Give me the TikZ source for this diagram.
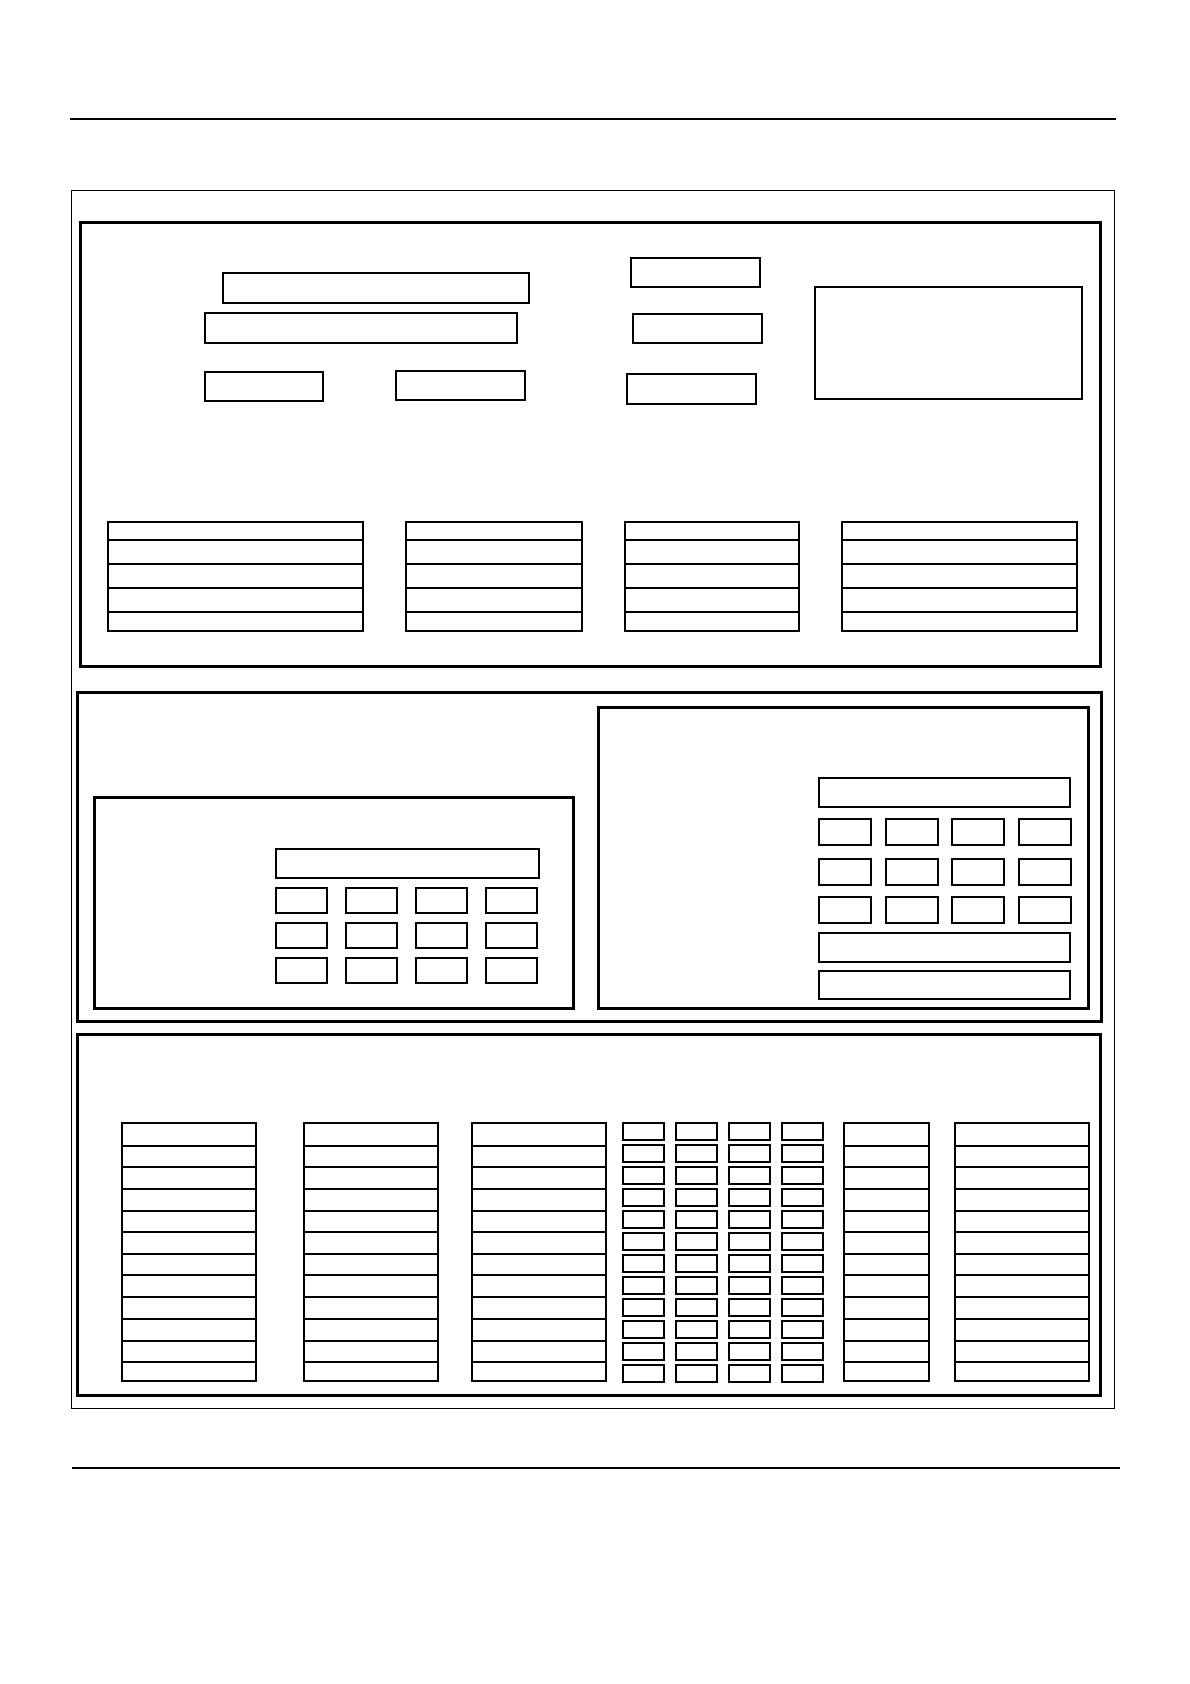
\documentclass[tikz,border=0pt]{standalone}
\usetikzlibrary{positioning}

\tikzset{
  field/.style={draw, line width=1.2pt, inner sep=0pt, outer sep=0pt, anchor=north west},
  panel/.style={draw, line width=3pt, inner sep=0pt, outer sep=0pt, anchor=north west},
}
% box from its top left corner (x1,y1) to its bottom right corner (x2,y2)
\newcommand{\fieldbox}[6][field]{\node[#1, minimum width={(#5)-(#3)}, minimum height={(#6)-(#4)}] (#2) at (#3,#4) {};}

\begin{document}
\begin{tikzpicture}[x=1pt, y=-1pt]
  \useasboundingbox (0,0) rectangle (1190,1684);
  \draw[line width=2pt] (70,119) -- (1116,119);
  \draw[line width=1.5pt] (72,1468) -- (1120,1468);
  \fieldbox[draw, line width=1pt, anchor=north west, inner sep=0pt]{frame}{71}{190}{1114}{1408}

  % header panel
  \fieldbox[panel]{head}{80}{222}{1100}{666}
  \fieldbox{namea}{223}{273}{529}{303}
  \fieldbox{nameb}{205}{313}{517}{343}
  \fieldbox{datea}{205}{372}{323}{401}
  \fieldbox{dateb}{396}{371}{525}{400}
  \fieldbox{codea}{631}{258}{760}{287}
  \fieldbox{codeb}{633}{314}{762}{343}
  \fieldbox{codec}{627}{374}{756}{404}
  \fieldbox{note}{815}{287}{1082}{399}
  \foreach \tab/\xa/\xb in {ta/108/363, tb/406/582, tc/625/799, td/842/1077} {
    \foreach \y [remember=\y as \lasty (initially 522), count=\i] in {540,564,588,612,631} {
      \fieldbox{\tab\i}{\xa}{\lasty}{\xb}{\y}
    }
  }

  % middle panel
  \fieldbox[panel]{mid}{77}{692}{1101}{1021}
  \fieldbox[panel]{left}{94}{797}{573}{1008}
  \fieldbox[panel]{right}{598}{707}{1088}{1008}
  \fieldbox{lwide}{276}{849}{539}{878}
  \foreach \x [count=\c] in {276,346,416,486} {
    \foreach \y [count=\r] in {888,923,958} {
      \fieldbox{l\r\c}{\x}{\y}{\x+51}{\y+25}
    }
  }
  \fieldbox{rwidea}{819}{778}{1070}{807}
  \foreach \x [count=\c] in {819,886,952,1019} {
    \foreach \y [count=\r] in {819,859,897} {
      \fieldbox{r\r\c}{\x}{\y}{\x+52}{\y+26}
    }
  }
  \fieldbox{rwideb}{819}{933}{1070}{962}
  \fieldbox{rwidec}{819}{971}{1070}{999}

  % bottom panel
  \fieldbox[panel]{low}{77}{1034}{1100}{1395}
  \foreach \col/\xa/\xb in {ca/122/256, cb/304/438, cc/472/606, cd/844/929, ce/955/1089} {
    \foreach \y [remember=\y as \lasty (initially 1123), count=\i] in {1146,1167,1189,1211,1232,1254,1275,1297,1319,1341,1362,1381} {
      \fieldbox{\col\i}{\xa}{\lasty}{\xb}{\y}
    }
  }
  \foreach \x [count=\c] in {623,676,729,782} {
    \foreach \r in {0,...,11} {
      \fieldbox{g\r\c}{\x}{1123+22*\r}{\x+41}{1140+22*\r}
    }
  }
\end{tikzpicture}
\end{document}
